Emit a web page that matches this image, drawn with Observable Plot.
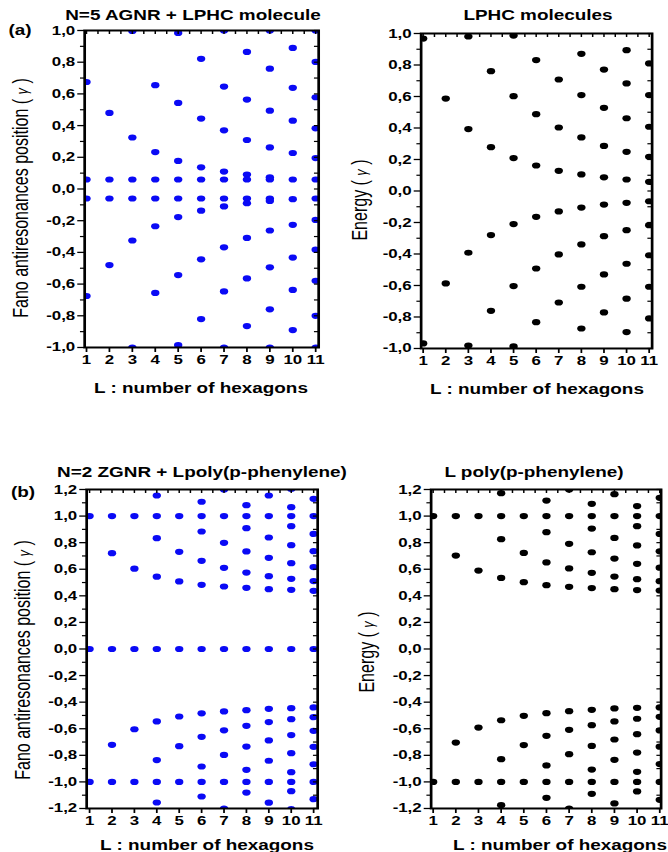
<!DOCTYPE html>
<html>
<head>
<meta charset="utf-8">
<script src="https://cdn.jsdelivr.net/npm/d3@7"></script>
<script src="https://cdn.jsdelivr.net/npm/@observablehq/plot@0.6"></script>
<style>
  html, body { margin: 0; padding: 0; background: #fff; }
  #fig { position: relative; width: 668px; height: 852px; overflow: hidden; }
  #inner { position: absolute; left: 0; top: 0; width: 494.8px; height: 852px; transform: scaleX(1.35); transform-origin: 0 0; }
  .panel { position: absolute; }
  .txt { position: absolute; white-space: nowrap; font-family: "Liberation Sans", Arial, sans-serif; color: #000; transform: translate(-50%, -50%); }
  .bold { font-weight: bold; }
  .rot { transform: translate(-50%, -50%) rotate(-90deg); }
</style>
</head>
<body>
<div id="fig"><div id="inner"></div></div>
<script>
// ---------- data ----------
const L = [1, 2, 3, 4, 5, 6, 7, 8, 9, 10, 11];

// (a) left: N=5 AGNR + LPHC molecule, Fano antiresonance positions (γ), one list per L
const agnrLphc = [
  [0.675, 0.06, -0.06, -0.675],
  [0.48, 0.06, -0.06, -0.48],
  [0.997, 0.325, 0.06, -0.06, -0.325, -1.0],
  [0.655, 0.233, 0.06, -0.06, -0.235, -0.656],
  [0.985, 0.543, 0.177, 0.06, -0.06, -0.177, -0.543, -0.985],
  [0.821, 0.444, 0.137, 0.06, -0.06, -0.137, -0.444, -0.821],
  [1.0, 0.646, 0.37, 0.11, 0.06, -0.06, -0.11, -0.368, -0.646, -1.0],
  [0.865, 0.564, 0.309, 0.091, 0.06, -0.06, -0.09, -0.309, -0.564, -0.865],
  [1.0, 0.759, 0.494, 0.262, 0.074, 0.06, -0.06, -0.075, -0.262, -0.494, -0.759, -1.0],
  [0.89, 0.638, 0.431, 0.227, 0.06, -0.064, -0.226, -0.433, -0.637, -0.89],
  [1.0, 0.802, 0.579, 0.383, 0.195, 0.06, -0.06, -0.195, -0.383, -0.579, -0.8, -1.0]
];

// (a) right: LPHC molecules, energy (γ)
const lphc = [
  [0.968, -0.968],
  [0.587, -0.587],
  [0.981, 0.393, -0.392, -0.981],
  [0.761, 0.278, -0.28, -0.761],
  [0.987, 0.602, 0.209, -0.21, -0.604, -0.987],
  [0.831, 0.488, 0.162, -0.164, -0.492, -0.833],
  [0.708, 0.403, 0.128, -0.13, -0.403, -0.708],
  [0.871, 0.609, 0.34, 0.105, -0.105, -0.339, -0.608, -0.873],
  [0.771, 0.528, 0.286, 0.087, -0.086, -0.287, -0.53, -0.771],
  [0.894, 0.683, 0.462, 0.249, 0.073, -0.075, -0.249, -0.462, -0.684, -0.896],
  [0.81, 0.609, 0.408, 0.217, 0.058, -0.065, -0.217, -0.408, -0.608, -0.809]
];

// (b) left: N=2 ZGNR + L poly(p-phenylene), Fano antiresonance positions (γ)
const zgnrPpp = [
  [1.0, 0, -1.0],
  [1.0, 0.721, 0, -0.721, -1.0],
  [1.0, 0.604, 0, -0.604, -1.0],
  [1.155, 1.0, 0.834, 0.544, 0, -0.545, -0.836, -1.0, -1.155],
  [1.0, 0.731, 0.508, 0, -0.508, -0.731, -1.0],
  [1.108, 1.0, 0.884, 0.663, 0.483, 0, -0.484, -0.661, -0.884, -1.0, -1.11],
  [1.2, 1.0, 0.799, 0.611, 0.47, 0, -0.47, -0.612, -0.797, -1.0, -1.2],
  [1.082, 1.0, 0.909, 0.734, 0.575, 0.46, 0, -0.46, -0.578, -0.734, -0.909, -1.0, -1.08],
  [1.155, 1.0, 0.839, 0.686, 0.548, 0.45, 0, -0.45, -0.55, -0.688, -0.841, -1.0, -1.156],
  [1.205, 1.067, 1.0, 0.924, 0.781, 0.646, 0.528, 0.445, 0, -0.445, -0.528, -0.648, -0.784, -0.927, -1.0, -1.07, -1.205],
  [1.13, 1.0, 0.866, 0.736, 0.616, 0.511, 0.438, 0, -0.44, -0.513, -0.616, -0.736, -0.867, -1.0, -1.13]
];

// (b) right: L poly(p-phenylene), energy (γ)
const ppp = [
  [1.0, -1.0],
  [1.0, 0.703, -0.704, -1.0],
  [1.0, 0.59, -0.591, -1.0],
  [1.172, 1.0, 0.826, 0.535, -0.536, -0.829, -1.0, -1.175],
  [1.0, 0.723, 0.503, -0.503, -0.723, -1.0],
  [1.117, 1.0, 0.879, 0.651, 0.48, -0.483, -0.653, -0.876, -1.0, -1.12],
  [1.2, 1.0, 0.791, 0.606, 0.468, -0.468, -0.608, -0.791, -1.0, -1.2],
  [1.092, 1.0, 0.906, 0.728, 0.573, 0.458, -0.458, -0.573, -0.729, -0.907, -1.0, -1.09],
  [1.165, 1.0, 0.836, 0.68, 0.545, 0.45, -0.447, -0.545, -0.681, -0.834, -1.0, -1.162],
  [1.075, 1.0, 0.924, 0.779, 0.641, 0.525, 0.443, -0.443, -0.525, -0.641, -0.779, -0.924, -1.0, -1.072],
  [1.137, 1.0, 0.866, 0.735, 0.612, 0.51, 0.44, -0.44, -0.51, -0.613, -0.735, -0.866, -1.0, -1.135]
];

// tick values
const yTicksA = [-1.0, -0.8, -0.6, -0.4, -0.2, 0.0, 0.2, 0.4, 0.6, 0.8, 1.0];
const yMinorA = [-0.9, -0.7, -0.5, -0.3, -0.1, 0.1, 0.3, 0.5, 0.7, 0.9];
const yTicksB = [-1.2, -1.0, -0.8, -0.6, -0.4, -0.2, 0.0, 0.2, 0.4, 0.6, 0.8, 1.0, 1.2];
const yMinorB = [-1.1, -0.9, -0.7, -0.5, -0.3, -0.1, 0.1, 0.3, 0.5, 0.7, 0.9, 1.1];
const xHalfTicks = [1, 1.5, 2, 2.5, 3, 3.5, 4, 4.5, 5, 5.5, 6, 6.5, 7, 7.5, 8, 8.5, 9, 9.5, 10, 10.5, 11];

const titles = ["N=5 AGNR + LPHC molecule", "LPHC molecules", "N=2 ZGNR + Lpoly(p-phenylene)", "L poly(p-phenylene)"];
const xLabel = "L : number of hexagons";

// ---------- drawing ----------
const S = 1.35; // horizontal stretch of the whole figure
const fmt = d => d.toFixed(1).replace(".", ",");
const rows = arr => L.flatMap((l, i) => arr[i].map(e => ({L: l, E: e})));
const inner = document.getElementById("inner");

function panel({data, color, yDomain, yMajor, yMinor, xDomain, left, top, width, height, mL, mR, mT, mB}) {
  const chart = Plot.plot({
    width, height,
    marginLeft: mL, marginRight: mR, marginTop: mT, marginBottom: mB,
    x: {domain: xDomain, axis: null},
    y: {domain: yDomain, axis: null},
    style: {fontFamily: "'Liberation Sans', Arial, sans-serif", fontSize: "12.5px", fontWeight: "bold", color: "#000", background: "transparent", overflow: "visible"},
    marks: [
      Plot.dot(rows(data), {x: "L", y: "E", r: 3.1, fill: color, stroke: null, clip: true}),
      Plot.axisY(yMajor, {anchor: "left", tickSize: 5, tickPadding: 2, tickFormat: fmt, label: null, strokeWidth: 1.3}),
      Plot.axisY(yMinor, {anchor: "left", tickSize: 3, tickFormat: () => "", label: null, strokeWidth: 1.2}),
      Plot.axisY(yMajor.concat(yMinor), {anchor: "right", tickSize: 4, dx: -4, tickFormat: () => "", label: null, strokeWidth: 1.2}),
      Plot.axisX(L, {anchor: "bottom", tickSize: 5, tickPadding: 3, label: null, strokeWidth: 1.3}),
      Plot.axisX(xHalfTicks, {anchor: "top", tickSize: 3, dy: 3, tickFormat: () => "", label: null, strokeWidth: 1.1}),
      Plot.frame({stroke: "#000", strokeWidth: 2})
    ]
  });
  chart.classList.add("panel");
  chart.style.left = left + "px";
  chart.style.top = top + "px";
  inner.appendChild(chart);
}

function text(str, x, y, size, cls) {
  const d = document.createElement("div");
  d.className = "txt " + cls;
  d.style.left = (x / S) + "px";
  d.style.top = y + "px";
  d.style.fontSize = size + "px";
  d.innerHTML = str;
  inner.appendChild(d);
}

const PW = 334 / S;
panel({data: agnrLphc, color: "#0a0af5", yDomain: [-1, 1], yMajor: yTicksA, yMinor: yMinorA, xDomain: [0.92, 11.13],
  left: 0, top: 0, width: PW, height: 420, mL: 84 / S, mR: PW - 318 / S, mT: 30, mB: 73});
panel({data: lphc, color: "#000", yDomain: [-1, 1], yMajor: yTicksA, yMinor: yMinorA, xDomain: [0.91, 11.13],
  left: PW, top: 0, width: PW, height: 420, mL: 87 / S, mR: PW - 318 / S, mT: 33, mB: 72});
panel({data: zgnrPpp, color: "#0a0af5", yDomain: [-1.2, 1.2], yMajor: yTicksB, yMinor: yMinorB, xDomain: [0.87, 11.18],
  left: 0, top: 430, width: PW, height: 422, mL: 86 / S, mR: PW - 317 / S, mT: 59, mB: 44});
panel({data: ppp, color: "#000", yDomain: [-1.2, 1.2], yMajor: yTicksB, yMinor: yMinorB, xDomain: [0.91, 11.06],
  left: PW, top: 430, width: PW, height: 422, mL: 97 / S, mR: PW - 327 / S, mT: 59, mB: 44});

// titles and panel letters
text(titles[0], 193, 15, 14, "bold");
text(titles[1], 538, 15, 14, "bold");
text(titles[2], 202, 472, 14, "bold");
text(titles[3], 534, 472, 14, "bold");
text("(a)", 20, 30, 14, "bold");
text("(b)", 23, 492, 14, "bold");
// x labels
text(xLabel, 201, 388, 14, "bold");
text(xLabel, 537, 389, 14, "bold");
text(xLabel, 207, 845, 14, "bold");
text(xLabel, 560, 845, 14, "bold");
// y labels
const g = '( <span style="font-size:80%;font-style:italic">γ</span> )';
text("Fano antiresonances position " + g, 22, 198, 16, "rot");
text("Energy  " + g, 360, 200, 16, "rot");
text("Fano antiresonances position " + g, 23, 660, 16, "rot");
text("Energy  " + g, 367, 652, 16, "rot");
</script>
</body>
</html>
